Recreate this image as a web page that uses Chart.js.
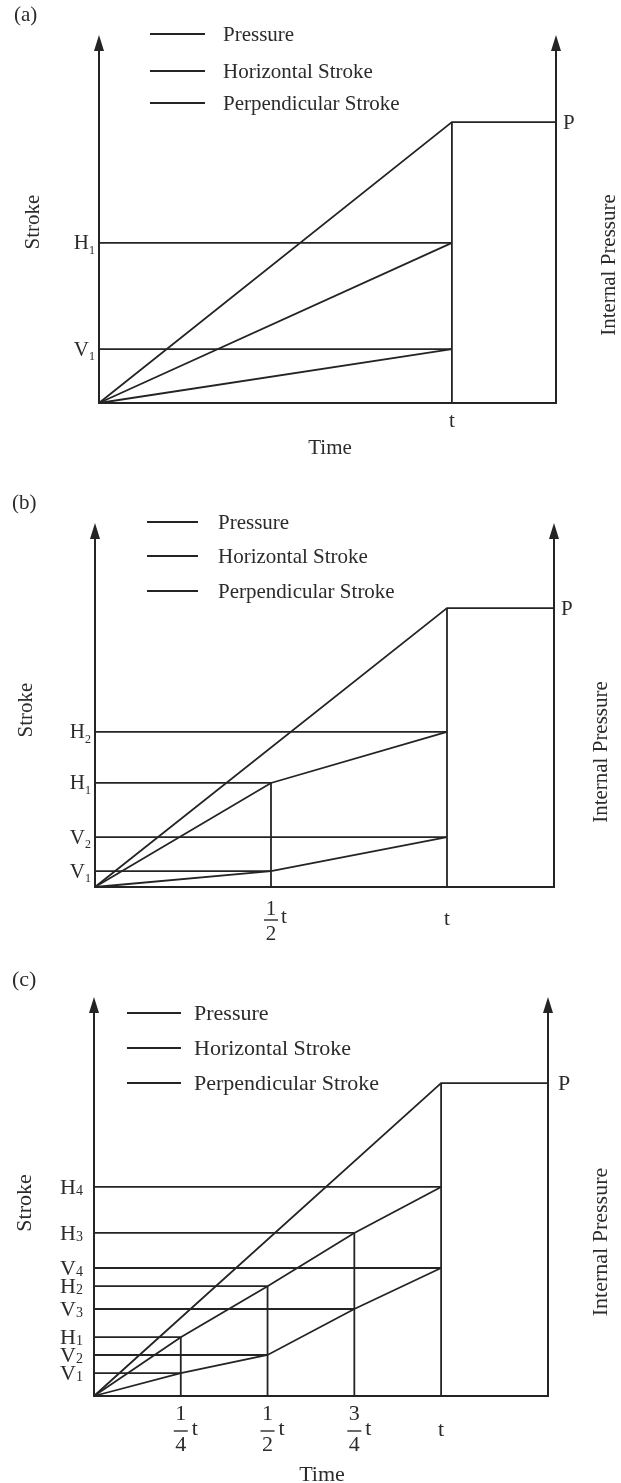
<!DOCTYPE html>
<html><head><meta charset="utf-8">
<script src="https://cdn.jsdelivr.net/npm/chart.js@4.4.1/dist/chart.umd.min.js"></script>
<style>
html,body{margin:0;padding:0;background:#fff;}
body{width:621px;height:1483px;position:relative;overflow:hidden;}
.panel{position:absolute;left:0;width:621px;}
canvas{display:block;}
</style></head><body>
<div class="panel" style="top:0;height:470px"><canvas id="cA" width="621" height="470"></canvas></div>
<div class="panel" style="top:470px;height:490px"><canvas id="cB" width="621" height="490"></canvas></div>
<div class="panel" style="top:960px;height:523px"><canvas id="cC" width="621" height="523"></canvas></div>
<script>
// ---------------- data ----------------
const seriesNames = ['Pressure', 'Horizontal Stroke', 'Perpendicular Stroke'];
const pressureLevel = 100;          // P (internal pressure, relative units)

// panel (a)
const stagesA = [0, 1];             // time in units of t
const horizontalA = [0, 57];
const perpendicularA = [0, 19.2];
const hLabelsA = ['H1'];
const vLabelsA = ['V1'];
const xTicksA = ['t'];
const xEndA = 1.295, yEndA = 131;

// panel (b)
const stagesB = [0, 0.5, 1];
const horizontalB = [0, 37.3, 55.6];
const perpendicularB = [0, 5.7, 17.9];
const hLabelsB = ['H1', 'H2'];
const vLabelsB = ['V1', 'V2'];
const xTicksB = ['1/2 t', 't'];
const xEndB = 1.304, yEndB = 130.5;

// panel (c)
const stagesC = [0, 0.25, 0.5, 0.75, 1];
const horizontalC = [0, 18.8, 35.1, 52.1, 66.8];
const perpendicularC = [0, 7.3, 13.1, 27.8, 40.9];
const hLabelsC = ['H1', 'H2', 'H3', 'H4'];
const vLabelsC = ['V1', 'V2', 'V3', 'V4'];
const xTicksC = ['1/4 t', '1/2 t', '3/4 t', 't'];
const xEndC = 1.308, yEndC = 127.5;

// ---------------- styling ----------------
const INK = '#242424';
const TXT = '#2b2b2b';
const SERIF = '"Liberation Serif", "Times New Roman", "DejaVu Serif", serif';

function subLabel(ctx, label, xRight, y, s) {
  const main = label[0], sub = label.slice(1);
  ctx.textAlign = 'right'; ctx.textBaseline = 'middle';
  ctx.font = s.subFs + 'px ' + SERIF;
  const ws = ctx.measureText(sub).width;
  ctx.fillText(sub, xRight, y + s.subDy);
  ctx.font = s.fs + 'px ' + SERIF;
  ctx.fillText(main, xRight - ws, y + 1);
}

function xTick(ctx, label, x, yb, s) {
  ctx.font = s.fs + 'px ' + SERIF;
  ctx.textBaseline = 'middle';
  if (label.indexOf('/') < 0) {
    ctx.textAlign = 'center';
    ctx.fillText(label, x, yb + s.tDy);
    return;
  }
  const parts = label.split(' ');
  const nd = parts[0].split('/');
  ctx.textAlign = 'center';
  ctx.fillText(nd[0], x, yb + s.numDy);
  ctx.fillText(nd[1], x, yb + s.denDy);
  ctx.fillRect(x - 7, yb + s.barDy - 0.7, 14, 1.4);
  ctx.textAlign = 'left';
  ctx.fillText(parts[1], x + s.tailDx, yb + s.tailDy);
}

function rotText(ctx, text, cx, cy, fs) {
  ctx.save();
  ctx.translate(cx, cy);
  ctx.rotate(-Math.PI / 2);
  ctx.font = fs + 'px ' + SERIF;
  ctx.textAlign = 'center'; ctx.textBaseline = 'middle';
  ctx.fillText(text, 0, 0);
  ctx.restore();
}

function makePanel(id, d, s) {
  const n = d.stages.length;
  const ds = [];
  const add = (pts) => ds.push({
    data: pts, borderColor: INK, borderWidth: 1.8, pointRadius: 0,
    showLine: true, tension: 0, fill: false, clip: false
  });
  // pressure: ramp then hold
  add([{x: 0, y: 0}, {x: d.stages[n - 1], y: pressureLevel}, {x: d.xEnd, y: pressureLevel}]);
  // horizontal stroke and perpendicular stroke
  add(d.stages.map((x, i) => ({x: x, y: d.horizontal[i]})));
  add(d.stages.map((x, i) => ({x: x, y: d.perpendicular[i]})));
  // guide lines at each stage
  for (let i = 1; i < n; i++) {
    add([{x: 0, y: d.horizontal[i]}, {x: d.stages[i], y: d.horizontal[i]}]);
    add([{x: 0, y: d.perpendicular[i]}, {x: d.stages[i], y: d.perpendicular[i]}]);
    add([{x: d.stages[i], y: 0}, {x: d.stages[i], y: i === n - 1 ? pressureLevel : d.horizontal[i]}]);
  }

  const decor = {
    id: 'decor' + id,
    afterDatasetsDraw(chart) {
      const ctx = chart.ctx;
      const xs = chart.scales.x, ys = chart.scales.y;
      const x0 = xs.getPixelForValue(0), xR = xs.getPixelForValue(d.xEnd);
      const y0 = ys.getPixelForValue(0), yT = ys.getPixelForValue(d.yEnd);
      ctx.save();
      // axes
      ctx.strokeStyle = INK; ctx.lineWidth = 2;
      ctx.beginPath();
      ctx.moveTo(x0, yT + 14); ctx.lineTo(x0, y0); ctx.lineTo(xR, y0); ctx.lineTo(xR, yT + 14);
      ctx.stroke();
      ctx.fillStyle = INK;
      [x0, xR].forEach(ax => {
        ctx.beginPath();
        ctx.moveTo(ax, yT); ctx.lineTo(ax - 5, yT + 16); ctx.lineTo(ax + 5, yT + 16); ctx.closePath();
        ctx.fill();
      });
      ctx.fillStyle = TXT;
      // y labels (H_i, V_i)
      for (let i = 1; i < n; i++) {
        subLabel(ctx, d.hLabels[i - 1], x0 - s.yLabGap, ys.getPixelForValue(d.horizontal[i]), s);
        subLabel(ctx, d.vLabels[i - 1], x0 - s.yLabGap, ys.getPixelForValue(d.perpendicular[i]), s);
      }
      // x tick labels
      for (let i = 1; i < n; i++) {
        xTick(ctx, d.xTicks[i - 1], xs.getPixelForValue(d.stages[i]), y0, s);
      }
      // P label
      ctx.font = s.fs + 'px ' + SERIF;
      ctx.textAlign = 'left'; ctx.textBaseline = 'middle';
      ctx.fillText('P', xR + s.pGap, ys.getPixelForValue(pressureLevel) + 1);
      // axis titles
      rotText(ctx, 'Stroke', x0 - s.strokeDx, s.strokeY, s.fs);
      rotText(ctx, 'Internal Pressure', xR + s.ipDx, s.ipY, s.fs);
      if (s.timeY) {
        ctx.font = s.fs + 'px ' + SERIF;
        ctx.textAlign = 'center'; ctx.textBaseline = 'middle';
        ctx.fillText('Time', s.timeX, s.timeY);
      }
      // panel tag
      ctx.font = s.fs + 'px ' + SERIF;
      ctx.textAlign = 'left'; ctx.textBaseline = 'middle';
      ctx.fillText(s.tag, s.tagX, s.tagY);
      // legend
      seriesNames.forEach((name, k) => {
        const ly = s.legY[k];
        ctx.strokeStyle = INK; ctx.lineWidth = 2;
        ctx.beginPath(); ctx.moveTo(s.legX1, ly); ctx.lineTo(s.legX2, ly); ctx.stroke();
        ctx.fillStyle = TXT;
        ctx.font = s.fs + 'px ' + SERIF;
        ctx.textAlign = 'left'; ctx.textBaseline = 'middle';
        ctx.fillText(name, s.legTx, ly + 1);
      });
      ctx.restore();
    }
  };

  return new Chart(document.getElementById(id), {
    type: 'scatter',
    data: {datasets: ds},
    options: {
      responsive: false, animation: false, devicePixelRatio: 1, events: [],
      layout: {padding: s.pad},
      plugins: {legend: {display: false}, tooltip: {enabled: false}},
      scales: {
        x: {type: 'linear', min: 0, max: d.xEnd, display: false},
        y: {type: 'linear', min: 0, max: d.yEnd, display: false}
      }
    },
    plugins: [decor]
  });
}

makePanel('cA',
  {stages: stagesA, horizontal: horizontalA, perpendicular: perpendicularA,
   hLabels: hLabelsA, vLabels: vLabelsA, xTicks: xTicksA, xEnd: xEndA, yEnd: yEndA},
  {pad: {left: 99, right: 65, top: 35, bottom: 67}, fs: 21, subFs: 12, subDy: 8, yLabGap: 4,
   tDy: 18, numDy: 20, denDy: 48, barDy: 34, tailDx: 10, tailDy: 31, pGap: 7,
   strokeDx: 66, strokeY: 222, ipDx: 53, ipY: 265, timeX: 330, timeY: 448,
   tag: '(a)', tagX: 14, tagY: 15, legX1: 150, legX2: 205, legTx: 223, legY: [34, 71, 103]});

makePanel('cB',
  {stages: stagesB, horizontal: horizontalB, perpendicular: perpendicularB,
   hLabels: hLabelsB, vLabels: vLabelsB, xTicks: xTicksB, xEnd: xEndB, yEnd: yEndB},
  {pad: {left: 95, right: 67, top: 53, bottom: 73}, fs: 21, subFs: 12, subDy: 8, yLabGap: 4,
   tDy: 32, numDy: 22, denDy: 47, barDy: 33, tailDx: 10, tailDy: 30, pGap: 7,
   strokeDx: 69, strokeY: 240, ipDx: 47, ipY: 282, timeX: 0, timeY: 0,
   tag: '(b)', tagX: 12, tagY: 33, legX1: 147, legX2: 198, legTx: 218, legY: [52, 86, 121]});

makePanel('cC',
  {stages: stagesC, horizontal: horizontalC, perpendicular: perpendicularC,
   hLabels: hLabelsC, vLabels: vLabelsC, xTicks: xTicksC, xEnd: xEndC, yEnd: yEndC},
  {pad: {left: 94, right: 73, top: 37, bottom: 87}, fs: 22, subFs: 14, subDy: 4, yLabGap: 11,
   tDy: 34, numDy: 18, denDy: 49, barDy: 35, tailDx: 11, tailDy: 33, pGap: 10,
   strokeDx: 69, strokeY: 243, ipDx: 53, ipY: 282, timeX: 322, timeY: 515,
   tag: '(c)', tagX: 12, tagY: 20, legX1: 127, legX2: 181, legTx: 194, legY: [53, 88, 123]});
</script>
</body></html>
